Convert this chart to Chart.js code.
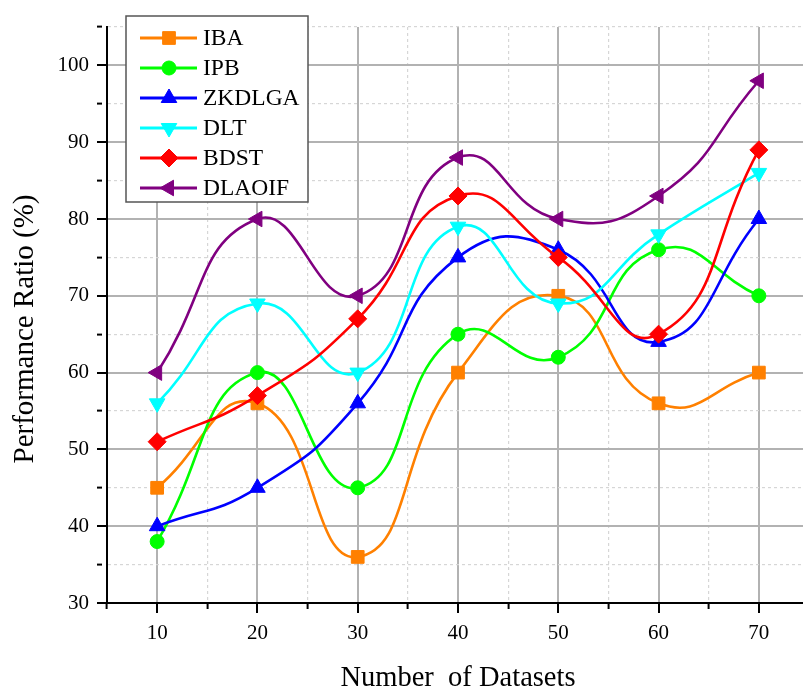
<!DOCTYPE html>
<html>
<head>
<meta charset="utf-8">
<script src="https://cdn.jsdelivr.net/npm/chart.js@4/dist/chart.umd.min.js"></script>
<style>
  html, body { margin: 0; padding: 0; overflow: hidden; background: #fff; }
  #wrap { width: 809px; height: 689px; }
</style>
</head>
<body>
<div id="wrap"><canvas id="c" width="809" height="689"></canvas></div>
<script>
// Number of datasets (x axis)
const datasetCounts = [10, 20, 30, 40, 50, 60, 70];

// Performance ratio (%) per method
const seriesNames = ['IBA', 'IPB', 'ZKDLGA', 'DLT', 'BDST', 'DLAOIF'];
const ibaValues    = [45, 56, 36, 60, 70, 56, 60];
const ipbValues    = [38, 60, 45, 65, 62, 76, 70];
const zkdlgaValues = [40, 45, 56, 75, 76, 64, 80];
const dltValues    = [56, 69, 60, 79, 69, 78, 86];
const bdstValues   = [51, 57, 67, 83, 75, 65, 89];
const dlaoifValues = [60, 80, 70, 88, 80, 83, 98];

// Axis ticks
const yTickLabels = [30, 40, 50, 60, 70, 80, 90, 100];
const xTickLabels = [10, 20, 30, 40, 50, 60, 70];

const seriesValues = [ibaValues, ipbValues, zkdlgaValues, dltValues, bdstValues, dlaoifValues];
const seriesColors = ['#FF8000', '#00FF00', '#0000FF', '#00FFFF', '#FF0000', '#800080'];
const seriesMarkers = [
  { style: 'rect', rotation: 0, radius: 9 },
  { style: 'circle', rotation: 0, radius: 7 },
  { style: 'triangle', rotation: 0, radius: 9 },
  { style: 'triangle', rotation: 180, radius: 9 },
  { style: 'rectRot', rotation: 0, radius: 9 },
  { style: 'triangle', rotation: -90, radius: 9 }
];

const SERIF = "'Liberation Serif', 'Times New Roman', serif";
const Y_TITLE = 'Performance Ratio (%)';

const datasets = seriesNames.map((name, i) => ({
  label: name,
  data: datasetCounts.map((x, j) => ({ x: x, y: seriesValues[i][j] })),
  borderColor: seriesColors[i],
  backgroundColor: seriesColors[i],
  pointBackgroundColor: seriesColors[i],
  pointBorderColor: seriesColors[i],
  pointBorderWidth: 1,
  pointStyle: seriesMarkers[i].style,
  pointRotation: seriesMarkers[i].rotation,
  pointRadius: seriesMarkers[i].radius,
  borderWidth: 2.6,
  tension: 0.5,
  fill: false,
  order: seriesNames.length - i
}));

const isMajor = (v, labels) => labels.includes(v);

function gridOptions(labels) {
  return {
    color: (c) => (c.tick && isMajor(c.tick.value, labels)) ? '#b2b2b2' : '#d6d6d6',
    lineWidth: (c) => (c.tick && isMajor(c.tick.value, labels)) ? 2 : 1.2,
    tickColor: '#000',
    tickWidth: 2,
    tickLength: 10,
    tickBorderDash: (c) => (c.tick && isMajor(c.tick.value, labels)) ? [] : [5, 30]
  };
}

function borderOptions(labels) {
  return {
    display: true,
    color: '#000',
    width: 2,
    dash: (c) => (c.tick && !isMajor(c.tick.value, labels)) ? [3, 3] : []
  };
}

// Framed legend with line + marker samples, plus the rotated y-axis title
const framedLegend = {
  id: 'framedLegend',
  afterDraw(chart) {
    const ctx = chart.ctx;
    ctx.save();
    ctx.translate(25, 329);
    ctx.rotate(-Math.PI / 2);
    ctx.fillStyle = '#000';
    ctx.font = '29px ' + SERIF;
    ctx.textAlign = 'center';
    ctx.textBaseline = 'middle';
    ctx.fillText(Y_TITLE, 0, 0);
    ctx.restore();

    const box = { x: 126, y: 16, w: 182, h: 186 };
    ctx.save();
    ctx.fillStyle = '#fff';
    ctx.fillRect(box.x, box.y, box.w, box.h);
    ctx.strokeStyle = '#555';
    ctx.lineWidth = 1.5;
    ctx.strokeRect(box.x, box.y, box.w, box.h);
    chart.data.datasets.forEach((ds, i) => {
      const y = 38 + i * 30;
      ctx.strokeStyle = ds.borderColor;
      ctx.lineWidth = 3;
      ctx.beginPath();
      ctx.moveTo(140, y);
      ctx.lineTo(197, y);
      ctx.stroke();
      ctx.fillStyle = ds.pointBackgroundColor;
      ctx.strokeStyle = ds.pointBorderColor;
      ctx.lineWidth = 1;
      Chart.helpers.drawPoint(ctx, {
        pointStyle: ds.pointStyle,
        rotation: ds.pointRotation,
        radius: ds.pointRadius,
        borderWidth: 1
      }, 169, y);
      ctx.fillStyle = '#000';
      ctx.font = '23.5px ' + SERIF;
      ctx.textBaseline = 'middle';
      ctx.textAlign = 'left';
      ctx.fillText(ds.label, 203, y + 1);
    });
    ctx.restore();
  }
};

new Chart(document.getElementById('c'), {
  type: 'line',
  data: { datasets: datasets },
  plugins: [framedLegend],
  options: {
    responsive: false,
    animation: false,
    layout: { autoPadding: false, padding: { top: 27, right: 0, left: 0, bottom: 0 } },
    plugins: {
      legend: { display: false },
      tooltip: { enabled: false }
    },
    scales: {
      x: {
        type: 'linear',
        min: 5,
        max: 75,
        afterFit: (s) => { s.height = 86; s.paddingLeft = 0; s.paddingRight = 0; },
        ticks: {
          stepSize: 5,
          autoSkip: false,
          maxRotation: 0,
          padding: 8,
          color: '#000',
          font: { family: SERIF, size: 21 },
          callback: (v) => xTickLabels.includes(v) ? String(v) : ''
        },
        grid: gridOptions(xTickLabels),
        border: borderOptions(xTickLabels),
        title: {
          display: true,
          text: 'Number  of Datasets',
          color: '#000',
          font: { family: SERIF, size: 28.5, lineHeight: 0.76 },
          padding: { top: 0, bottom: 0 }
        }
      },
      y: {
        type: 'linear',
        min: 30,
        max: 105,
        afterFit: (s) => { s.width = 107; s.paddingTop = 0; s.paddingBottom = 0; },
        ticks: {
          stepSize: 5,
          autoSkip: false,
          padding: 8,
          color: '#000',
          font: { family: SERIF, size: 21 },
          callback: (v) => yTickLabels.includes(v) ? String(v) : ''
        },
        grid: gridOptions(yTickLabels),
        border: borderOptions(yTickLabels),
        title: { display: false }
      }
    }
  }
});
</script>
</body>
</html>
